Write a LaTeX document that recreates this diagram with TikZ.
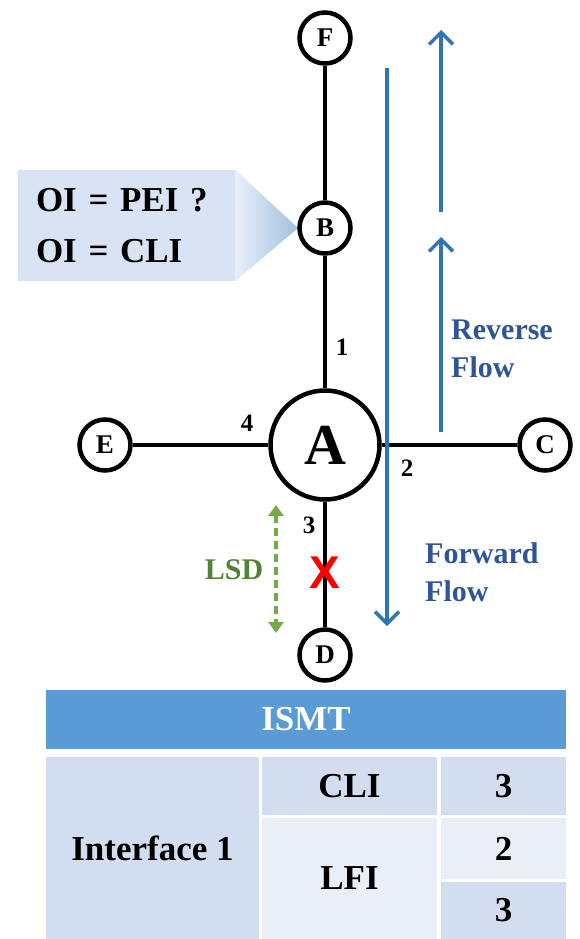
\documentclass[tikz,border=0pt]{standalone}
\usepackage{fontspec}
\setmainfont{Liberation Serif}
\newfontfamily\xsans{Liberation Sans}
\usetikzlibrary{arrows.meta}
\definecolor{flowblue}{HTML}{2E75B6}
\definecolor{textblue}{HTML}{2F5597}
\definecolor{lsdgreen}{HTML}{70AD47}
\definecolor{lsdtext}{HTML}{548235}
\definecolor{hdr}{HTML}{5B9BD5}
\definecolor{cdark}{HTML}{D2DEEF}
\definecolor{clight}{HTML}{EAEFF7}
\definecolor{callfill}{HTML}{DAE3F3}
\begin{document}
\begin{tikzpicture}[x=1pt,y=-1pt,
  nd/.style={circle,draw,line width=4.5pt,minimum size=51pt,inner sep=0pt,font=\fontsize{27}{27}\selectfont\bfseries},
  bignd/.style={nd,minimum size=109pt,font=\fontsize{58}{58}\selectfont\bfseries},
  link/.style={line width=3.3pt},
  num/.style={inner sep=0pt,font=\fontsize{25}{25}\selectfont\bfseries},
  flow/.style={draw=flowblue,line width=3.5pt,-{Straight Barb[length=12pt,width=24pt]}},
  flowtxt/.style={text=textblue,anchor=west,align=left,inner sep=0pt,font=\fontsize{30}{38}\selectfont\bfseries},
  cell/.style={rectangle,inner sep=0pt,draw=none,font=\fontsize{35}{35}\selectfont\bfseries}
]
\useasboundingbox (0,0) rectangle (580,939);

% callout
\node[rectangle,fill=callfill,minimum width=217pt,minimum height=111pt,text width=181pt,align=left,inner xsep=18pt,inner ysep=0pt,
  font=\fontsize{35}{51}\selectfont\bfseries] (call) at (126.5,225.5) {OI = PEI ?\\OI = CLI};
\shade[left color=callfill!60!white,right color=flowblue!45!white] (call.north east) -- (298,228) -- (call.south east) -- cycle;

% nodes
\node[nd] (F) at (325,38) {F};
\node[nd] (B) at (325,228) {B};
\node[bignd] (A) at (325,445) {A};
\node[nd] (E) at (105,445) {E};
\node[nd] (C) at (545,445) {C};
\node[nd] (D) at (325,655) {D};

\draw[link] (F) -- (B);
\draw[link] (B) -- (A);
\draw[link] (A) -- (D);
\draw[link] (E) -- (A);
\draw[link] (A) -- (C);

\node[num] (n1) at (342,347) {1};
\node[num] (n4) at (247,423) {4};
\node[num] (n2) at (407,468) {2};
\node[num] (n3) at (309,525) {3};

% red X
\node[inner sep=0pt,text=red,font=\xsans\fontsize{46}{46}\selectfont\bfseries] (x) at (325,573) {X};

% LSD
\coordinate (l1) at (276,505);
\coordinate (l2) at (276,633);
\draw[draw=lsdgreen,line width=3.3pt,dash pattern=on 8pt off 5pt,{Triangle[length=11pt,width=15pt]}-{Triangle[length=11pt,width=15pt]}] (l1) -- (l2);
\node[inner sep=0pt,text=lsdtext,font=\fontsize{30}{30}\selectfont\bfseries] (lsd) at (234,570) {LSD};

% flows
\coordinate (f1) at (387,68);
\coordinate (f2) at (387,626);
\draw[flow] (f1) -- (f2);
\coordinate (r1) at (441,212);
\coordinate (r2) at (441,30);
\draw[flow] (r1) -- (r2);
\coordinate (r3) at (441,432);
\coordinate (r4) at (441,237);
\draw[flow] (r3) -- (r4);
\node[flowtxt] (rev) at (451,349) {Reverse\\Flow};
\node[flowtxt] (fwd) at (425,572) {Forward\\Flow};

% table
\node[cell,fill=hdr,text=white,minimum width=520pt,minimum height=59pt] (ismt) at (306,719.5) {ISMT};
\node[cell,fill=cdark,minimum width=213pt,minimum height=182pt] (if1) at (152.5,848) {Interface 1};
\node[cell,fill=cdark,minimum width=175pt,minimum height=58pt] (cli) at (349.5,786) {CLI};
\node[cell,fill=cdark,minimum width=125pt,minimum height=58pt] (v1) at (503.5,786) {3};
\node[cell,fill=clight,minimum width=175pt,minimum height=121pt] (lfi) at (349.5,878.5) {LFI};
\node[cell,fill=clight,minimum width=125pt,minimum height=61pt] (v2) at (503.5,848.5) {2};
\node[cell,fill=cdark,minimum width=125pt,minimum height=57pt] (v3) at (503.5,910.5) {3};
\end{tikzpicture}
\end{document}
